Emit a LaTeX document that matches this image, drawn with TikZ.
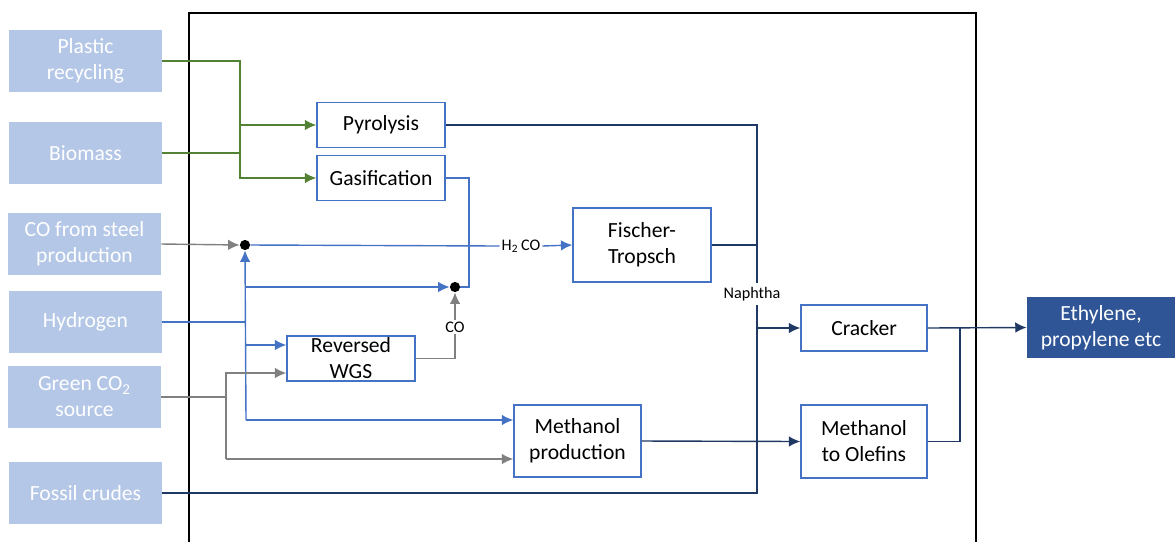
\documentclass[tikz,border=0pt]{standalone}
\usepackage{fontspec}
\setmainfont{Carlito}
\usepackage{tikz}
\usetikzlibrary{positioning,arrows.meta,calc}
\usepackage{xcolor}
\definecolor{srcfill}{RGB}{180,199,231}
\definecolor{boxline}{RGB}{68,114,196}
\definecolor{navy}{RGB}{32,56,100}
\definecolor{prodfill}{RGB}{47,85,151}
\definecolor{feedgreen}{RGB}{84,130,53}
\definecolor{feedgray}{RGB}{128,128,128}

\tikzset{
  srcbox/.style={rectangle,fill=srcfill,text=white,align=center,inner sep=0pt,
    minimum width=3.06cm,minimum height=1.24cm,font=\fontsize{12.3}{14.8}\selectfont},
  procbox/.style={rectangle,draw=boxline,line width=0.8pt,fill=white,align=center,inner sep=0pt,
    font=\fontsize{12.3}{14.8}\selectfont},
  prodbox/.style={rectangle,fill=prodfill,text=white,align=center,inner sep=0pt,
    minimum width=2.96cm,minimum height=1.22cm,font=\fontsize{12.3}{14.8}\selectfont},
  smalltag/.style={inner sep=1pt,font=\fontsize{9.2}{10}\selectfont},
  joint/.style={circle,fill=black,inner sep=0pt,minimum size=5.8pt},
  arr/.style={-{Latex[length=6.5pt,width=6pt]}},
  greenflow/.style={draw=feedgreen,line width=0.8pt},
  grayflow/.style={draw=feedgray,line width=0.8pt},
  blueflow/.style={draw=boxline,line width=0.8pt},
  navyflow/.style={draw=navy,line width=0.8pt}
}

\begin{document}
\begin{tikzpicture}[x=0.02cm,y=-0.02cm]
\useasboundingbox (0,0) rectangle (1175,542);

\draw[black,line width=0.6pt] (189,542) -- (189,13) -- (976,13) -- (976,542);

\node[srcbox] (plastic) at (85.5,61) {Plastic\\recycling};
\node[srcbox] (biomass) at (85.5,153) {Biomass};
\node[srcbox] (costeel) at (84.5,244) {CO from steel\\production};
\node[srcbox] (hydrogen) at (85.5,322) {Hydrogen};
\node[srcbox] (greenco) at (84.5,397) {Green CO\textsubscript{2}\\source};
\node[srcbox] (fossil) at (85.5,493) {Fossil crudes};

\node[procbox,minimum width=2.56cm,minimum height=0.9cm] (pyro) at (381,125) {Pyrolysis};
\node[procbox,minimum width=2.56cm,minimum height=0.9cm] (gasif) at (381,178) {Gasification};
\node[procbox,minimum width=2.76cm,minimum height=1.48cm] (ft) at (642,245) {Fischer-\\Tropsch};
\node[procbox,minimum width=2.56cm,minimum height=0.9cm] (rwgs) at (351,358.5) {Reversed\\WGS};
\node[procbox,minimum width=2.54cm,minimum height=1.44cm] (meoh) at (577.5,441) {Methanol\\production};
\node[procbox,minimum width=2.52cm,minimum height=0.92cm] (cracker) at (864,328) {Cracker};
\node[procbox,minimum width=2.52cm,minimum height=1.46cm] (mto) at (864,441.5) {Methanol\\to Olefins};
\node[prodbox] (ethylene) at (1101,327.5) {Ethylene,\\propylene etc};

\node[joint] (syndot) at (245,245) {};
\node[joint] (codot) at (455,287) {};
\node[smalltag] (h2co) at (521,246) {H\textsubscript{2}\,CO};
\node[smalltag] (colabel) at (455,327) {CO};
\node[smalltag] (naphtha) at (752,294) {Naphtha};

\coordinate (gsplit) at (240,178);
\coordinate (hbus) at (246,322);
\coordinate (cbus) at (226,397);
\coordinate (ntop) at (757,283);
\coordinate (nbot) at (757,305);
\coordinate (omerge) at (960,441.5);

\draw[greenflow,arr] (plastic.east) -| (gsplit) -- (gasif.west);
\draw[greenflow] (biomass.east) -- (biomass.east -| gsplit);
\draw[greenflow,arr] (gsplit |- pyro.west) -- (pyro.west);

\draw[grayflow,arr] (costeel.east) -- (syndot.west);
\draw[blueflow] (syndot.east) -- (h2co.west);
\draw[blueflow,arr] (h2co.east) -- (ft.west);
\draw[blueflow] (gasif.east) -| (469,287) -- (codot.east);

\draw[blueflow] (hydrogen.east) -- (hbus);
\draw[blueflow,arr] (246,420) -- (syndot.south);
\draw[blueflow,arr] (246,287) -- (codot.west);
\draw[blueflow,arr] (246,345) -- (rwgs.west |- 0,345);
\draw[blueflow,arr] (246,420) -- (meoh.west |- 0,420);

\draw[grayflow] (greenco.east) -- (cbus);
\draw[grayflow,arr] (226,459) -- (226,373) -- (rwgs.west |- 0,373);
\draw[grayflow,arr] (226,459) -- (meoh.west |- 0,459);
\draw[grayflow] (rwgs.east) -| (colabel.south);
\draw[grayflow,arr] (colabel.north) -- (codot.south);

\draw[navyflow] (pyro.east) -| (ntop);
\draw[navyflow] (ft.east) -- (ft.east -| ntop);
\draw[navyflow] (fossil.east) -| (nbot);
\draw[navyflow,arr] (nbot |- cracker.west) -- (cracker.west);
\draw[navyflow,arr] (meoh.east) -- (mto.west);
\draw[navyflow] (mto.east) -- (omerge) -- (omerge |- cracker.east);
\draw[navyflow,arr] (cracker.east) -- (ethylene.west);
\end{tikzpicture}
\end{document}
